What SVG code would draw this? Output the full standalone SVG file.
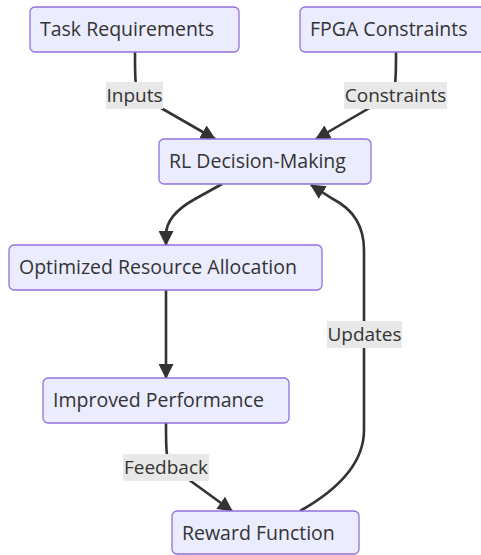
<svg xmlns="http://www.w3.org/2000/svg" width="481" height="555" viewBox="0 0 481 555">
<style>
.node rect{fill:#ECECFF;stroke:#9370DB;stroke-width:1.3}
.node text{font-family:"Open Sans","DejaVu Sans",sans-serif;font-size:19.5px;fill:#333}
.edge{fill:none;stroke:#333;stroke-width:2.6}
.lbl rect{fill:#e8e8e8}
.lbl text{font-family:"Open Sans","DejaVu Sans",sans-serif;font-size:19px;fill:#333;text-anchor:middle}
</style>
<defs>
<marker id="arr" markerUnits="userSpaceOnUse" markerWidth="15" markerHeight="15" viewBox="0 0 15 15" refX="14" refY="7.5" orient="auto">
<path d="M0,0 L15,7.5 L0,15 z" fill="#333"/>
</marker>
</defs>
<rect width="481" height="555" fill="#fff"/>
<g id="connectors">
<path class="edge" d="M135,52 C135,80 135,88 140,96 L215,139" marker-end="url(#arr)"/>
<path class="edge" d="M396,52 C396,80 396,88 390,96 L316,139" marker-end="url(#arr)"/>
<path class="edge" d="M222,184 L195,199 Q166,215 166,235 L166,245" marker-end="url(#arr)"/>
<path class="edge" d="M166,290 L166,378" marker-end="url(#arr)"/>
<path class="edge" d="M166,423 C166,445 166,458 170,466 L232,511" marker-end="url(#arr)"/>
<path class="edge" d="M300,511 Q364,475 364,430 L364,250 Q364,215 333,199 L311,185" marker-end="url(#arr)"/>
</g>
<g id="labels">
<g class="lbl" id="lbl-inputs"><rect x="106" y="82" width="57" height="27"/><text x="134.5" y="102">Inputs</text></g>
<g class="lbl" id="lbl-constraints"><rect x="344" y="82" width="103" height="27"/><text x="395.5" y="102">Constraints</text></g>
<g class="lbl" id="lbl-updates"><rect x="327" y="321" width="75" height="27"/><text x="364.5" y="341">Updates</text></g>
<g class="lbl" id="lbl-feedback"><rect x="123" y="454" width="86" height="27"/><text x="166" y="474">Feedback</text></g>
</g>
<g class="node" id="task"><rect x="30" y="7" width="209" height="45" rx="5"/><text x="40" y="36">Task Requirements</text></g>
<g class="node" id="fpga"><rect x="300" y="7" width="192" height="45" rx="5"/><text x="310" y="36">FPGA Constraints</text></g>
<g class="node" id="rl"><rect x="159" y="139" width="212" height="45" rx="5"/><text x="169" y="168">RL Decision-Making</text></g>
<g class="node" id="opt"><rect x="9" y="245" width="313" height="45" rx="5"/><text x="19" y="274">Optimized Resource Allocation</text></g>
<g class="node" id="perf"><rect x="43" y="378" width="246" height="45" rx="5"/><text x="53" y="407">Improved Performance</text></g>
<g class="node" id="reward"><rect x="172" y="511" width="187" height="43" rx="5"/><text x="182" y="540">Reward Function</text></g>
</svg>
